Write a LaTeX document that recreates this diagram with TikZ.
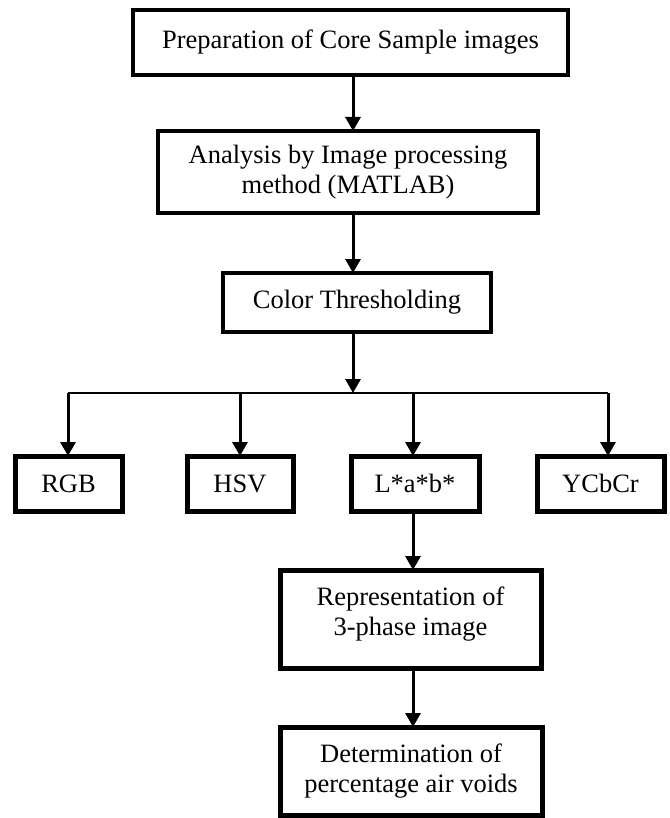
\documentclass[tikz,border=0pt]{standalone}
\usepackage{fontspec}
\setmainfont{Liberation Serif}
\usetikzlibrary{arrows.meta,calc}
\begin{document}
\begin{tikzpicture}[x=1pt,y=-1pt,
  box/.style={draw=black, inner sep=0pt, outer sep=0pt, align=center,
    font=\fontsize{26.5}{30.5}\selectfont},
  topbox/.style={box, line width=4pt},
  lowbox/.style={box, line width=5pt},
  arr/.style={draw=black, line width=3pt, -{Triangle[width=15pt,length=14pt]}},
  busline/.style={draw=black, line width=2.5pt}]
\useasboundingbox (0,0) rectangle (669,818);

\node[topbox, minimum width=435pt, minimum height=65pt] (b1) at (350.5,42.5) {Preparation of Core Sample images};
\node[topbox, minimum width=380pt, minimum height=82pt] (b2) at (348,172) {Analysis by Image processing\\method (MATLAB)};
\node[topbox, minimum width=268pt, minimum height=59pt] (b3) at (357,302.5) {Color Thresholding};

\node[lowbox, minimum width=107pt, minimum height=55pt] (rgb) at (68.5,483.5) {RGB};
\node[lowbox, minimum width=106pt, minimum height=55pt] (hsv) at (240,483.5) {HSV};
\node[lowbox, minimum width=128pt, minimum height=55pt] (lab) at (415,483.5) {L*a*b*};
\node[lowbox, minimum width=127pt, minimum height=55pt] (ycc) at (600.5,483.5) {YCbCr};

\node[lowbox, minimum width=261pt, minimum height=98pt, text depth=15.7pt] (rep) at (410.5,619) {Representation of\\3-phase image};
\node[lowbox, minimum width=262pt, minimum height=88pt] (det) at (411,771) {Determination of\\percentage air voids};

\coordinate (col) at (353,0);
\coordinate (busL) at (68,393);
\coordinate (busR) at (608,393);
\coordinate (busM) at (353,393);
\coordinate (t2) at (240,393);
\coordinate (t3) at (413,393);

\draw[arr] (b1.south -| col) -- (b2.north -| col);
\draw[arr] (b2.south -| col) -- (b3.north -| col);
\draw[arr] (b3.south -| col) -- (busM);
\draw[busline] (busL) -- (busR);
\draw[arr] (busL) -- (rgb.north -| busL);
\draw[arr] (t2) -- (hsv.north -| t2);
\draw[arr] (t3) -- (lab.north -| t3);
\draw[arr] (busR) -- (ycc.north -| busR);
\draw[arr] (lab.south -| t3) -- (rep.north -| t3);
\draw[arr] (rep.south -| t3) -- (det.north -| t3);
\end{tikzpicture}
\end{document}
